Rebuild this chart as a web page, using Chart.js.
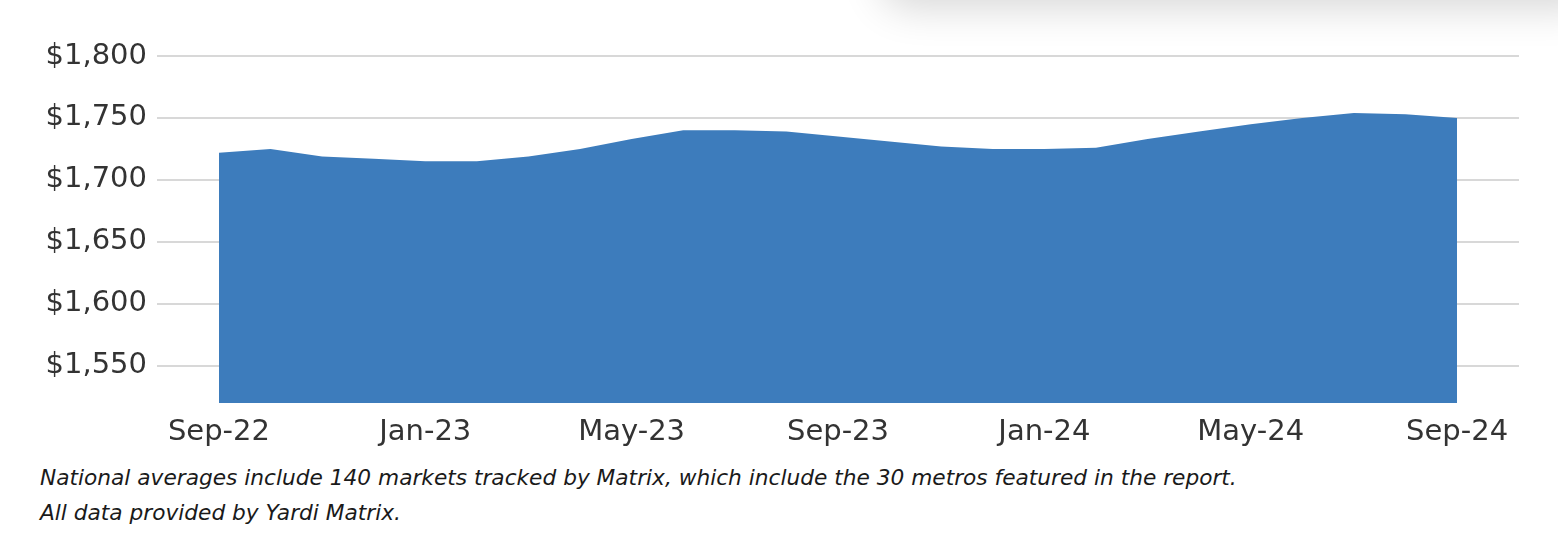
<!DOCTYPE html>
<html lang="en">
<head>
  <meta charset="UTF-8">
  <script src="https://cdn.jsdelivr.net/npm/chart.js"></script>
  <title>National average rent</title>
  <style>
    body {
      margin: 0;
      background: #fff;
      width: 1558px;
      height: 546px;
      overflow: hidden;
      position: relative;
      font-family: 'DejaVu Sans', sans-serif;
    }
    .card-shadow {
      position: absolute;
      left: 880px;
      top: -120px;
      width: 720px;
      height: 120px;
      background: #fff;
      box-shadow: 0 8px 40px rgba(0, 0, 0, 0.16);
      border-radius: 30px;
    }
    #wrap {
      position: absolute;
      left: 0;
      top: 0;
      width: 1558px;
      height: 455px;
    }
    .note {
      position: absolute;
      left: 40px;
      font-style: italic;
      font-size: 21.7px;
      color: #1a1a1a;
      white-space: nowrap;
    }
  </style>
</head>
<body>
  <div class="card-shadow"></div>
  <div id="wrap"><canvas id="rentChart"></canvas></div>
  <div class="note" style="top:465px;">National averages include 140 markets tracked by Matrix, which include the 30 metros featured in the report.</div>
  <div class="note" style="top:500px;">All data provided by Yardi Matrix.</div>
  <script>
    const months = ['Sep-22', 'Oct-22', 'Nov-22', 'Dec-22', 'Jan-23', 'Feb-23', 'Mar-23', 'Apr-23', 'May-23',
      'Jun-23', 'Jul-23', 'Aug-23', 'Sep-23', 'Oct-23', 'Nov-23', 'Dec-23', 'Jan-24', 'Feb-24', 'Mar-24',
      'Apr-24', 'May-24', 'Jun-24', 'Jul-24', 'Aug-24', 'Sep-24'];
    const avgRent = [1722, 1725, 1719, 1717, 1715, 1715, 1719, 1725, 1733,
      1740, 1740, 1739, 1735, 1731, 1727, 1725, 1725, 1726, 1733,
      1739, 1745, 1750, 1754, 1753, 1750];
    const xTickIdx = [0, 4, 8, 12, 16, 20, 24];
    const yTicks = [1550, 1600, 1650, 1700, 1750, 1800];

    const axisFont = { family: 'DejaVu Sans', size: 29 };

    const ctx = document.getElementById('rentChart').getContext('2d');
    new Chart(ctx, {
      type: 'line',
      data: {
        datasets: [{
          data: avgRent.map((v, i) => ({ x: i, y: v })),
          backgroundColor: '#3d7cbc',
          borderWidth: 0,
          pointRadius: 0,
          tension: 0,
          fill: 'start'
        }]
      },
      options: {
        responsive: true,
        maintainAspectRatio: false,
        animation: false,
        layout: { padding: { top: 56, right: 39, left: 0, bottom: 0 } },
        plugins: { legend: { display: false }, tooltip: { enabled: false } },
        scales: {
          x: {
            type: 'linear',
            min: -1.2,
            max: 25.2,
            grid: { display: false },
            border: { display: false },
            afterBuildTicks: scale => { scale.ticks = xTickIdx.map(v => ({ value: v })); },
            afterFit: scale => { scale.height = 52; },
            ticks: {
              autoSkip: false,
              maxRotation: 0,
              padding: 4,
              color: '#333',
              font: axisFont,
              callback: v => months[v]
            }
          },
          y: {
            min: 1520,
            max: 1800,
            grid: { color: '#d8d8d8', lineWidth: 2, drawTicks: false },
            border: { display: false },
            afterBuildTicks: scale => { scale.ticks = yTicks.map(v => ({ value: v })); },
            afterFit: scale => { scale.width = 157; },
            ticks: {
              padding: 10,
              color: '#333',
              font: axisFont,
              callback: v => '$' + v.toLocaleString('en-US')
            }
          }
        }
      }
    });
  </script>
</body>
</html>
